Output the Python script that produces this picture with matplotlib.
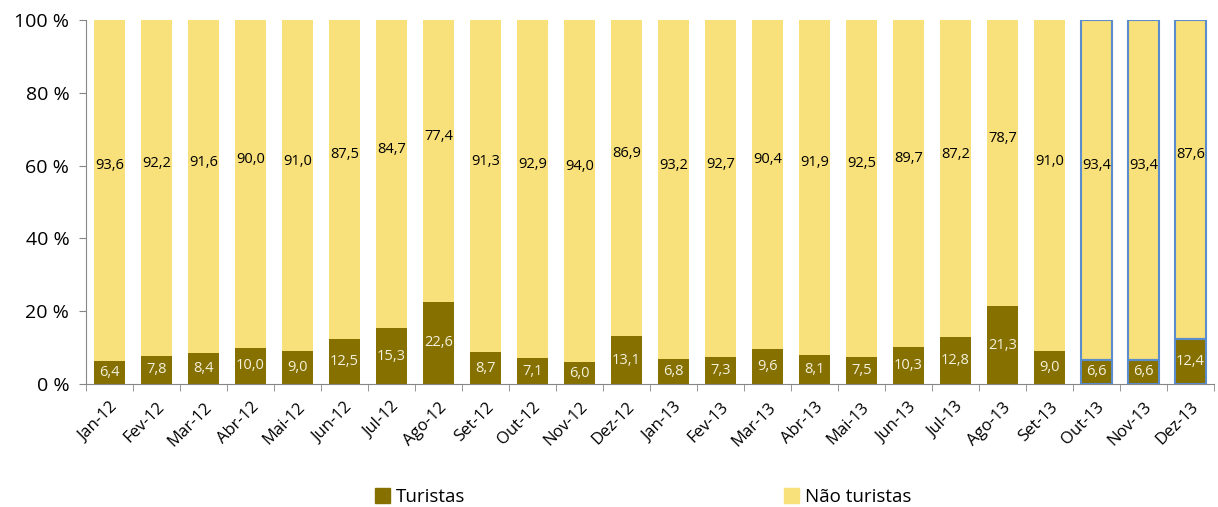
import numpy as np
import matplotlib.pyplot as plt
from matplotlib.patches import Patch

months = ["Jan-12", "Fev-12", "Mar-12", "Abr-12", "Mai-12", "Jun-12", "Jul-12", "Ago-12",
          "Set-12", "Out-12", "Nov-12", "Dez-12", "Jan-13", "Fev-13", "Mar-13", "Abr-13",
          "Mai-13", "Jun-13", "Jul-13", "Ago-13", "Set-13", "Out-13", "Nov-13", "Dez-13"]
turistas = [6.4, 7.8, 8.4, 10.0, 9.0, 12.5, 15.3, 22.6, 8.7, 7.1, 6.0, 13.1,
            6.8, 7.3, 9.6, 8.1, 7.5, 10.3, 12.8, 21.3, 9.0, 6.6, 6.6, 12.4]
nao_turistas = [93.6, 92.2, 91.6, 90.0, 91.0, 87.5, 84.7, 77.4, 91.3, 92.9, 94.0, 86.9,
                93.2, 92.7, 90.4, 91.9, 92.5, 89.7, 87.2, 78.7, 91.0, 93.4, 93.4, 87.6]
highlighted = ["Out-13", "Nov-13", "Dez-13"]

c_tur = "#857000"
c_nao = "#F8E07A"
edge_blue = "#5B8CCB"
plt.rcParams['font.family'] = ['Open Sans', 'DejaVu Sans']

fig = plt.figure(figsize=(12.18, 5.07), dpi=100)
ax = fig.add_axes([86 / 1218, 1 - 384 / 507, 1128 / 1218, 364 / 507])

x = np.arange(len(months))
w = 0.64
ax.bar(x, turistas, width=w, color=c_tur, zorder=2)
ax.bar(x, nao_turistas, width=w, bottom=turistas, color=c_nao, zorder=2)

# blue outline on the last three months
for i, m in enumerate(months):
    if m in highlighted:
        ax.bar(x[i], turistas[i], width=w, fill=False, edgecolor=edge_blue, lw=1.5, zorder=3)
        ax.bar(x[i], nao_turistas[i], width=w, bottom=turistas[i], fill=False,
               edgecolor=edge_blue, lw=1.5, zorder=3)

for i in range(len(months)):
    ax.text(x[i], turistas[i] / 2, f"{turistas[i]:.1f}".replace(".", ","),
            ha="center", va="center", fontsize=10.5, color="#F4F1DC", zorder=4)
    ax.text(x[i], (turistas[i] + 113.5) / 2, f"{nao_turistas[i]:.1f}".replace(".", ","),
            ha="center", va="center", fontsize=10.5, color="black", zorder=4)

ax.set_xlim(-0.5, len(months) - 0.5)
ax.set_ylim(0, 100)
ax.set_yticks(np.arange(0, 101, 20))
ax.set_yticklabels([f"{v} %" for v in range(0, 101, 20)], fontsize=14)
ax.set_xticks(x)
ax.set_xticklabels(months, rotation=45, ha="right", rotation_mode="anchor", fontsize=12)
ax.tick_params(axis="x", which="major", length=0, pad=11)
ax.set_xticks(np.arange(-0.5, len(months), 1), minor=True)
ax.tick_params(axis="x", which="minor", length=5, color="#868686")
ax.tick_params(axis="y", length=5, color="#868686", pad=7)

for s in ["top", "right"]:
    ax.spines[s].set_visible(False)
for s in ["left", "bottom"]:
    ax.spines[s].set_color("#868686")

handles = [Patch(color=c_tur, label="Turistas"), Patch(color=c_nao, label="Não turistas")]
fig.legend(handles=handles, loc="center", bbox_to_anchor=(0.528, 0.02),
           ncol=2, frameon=False, fontsize=13.5, handlelength=0.8, handleheight=0.8,
           handletextpad=0.3, columnspacing=17)

fig.savefig("out.png", dpi=100)
